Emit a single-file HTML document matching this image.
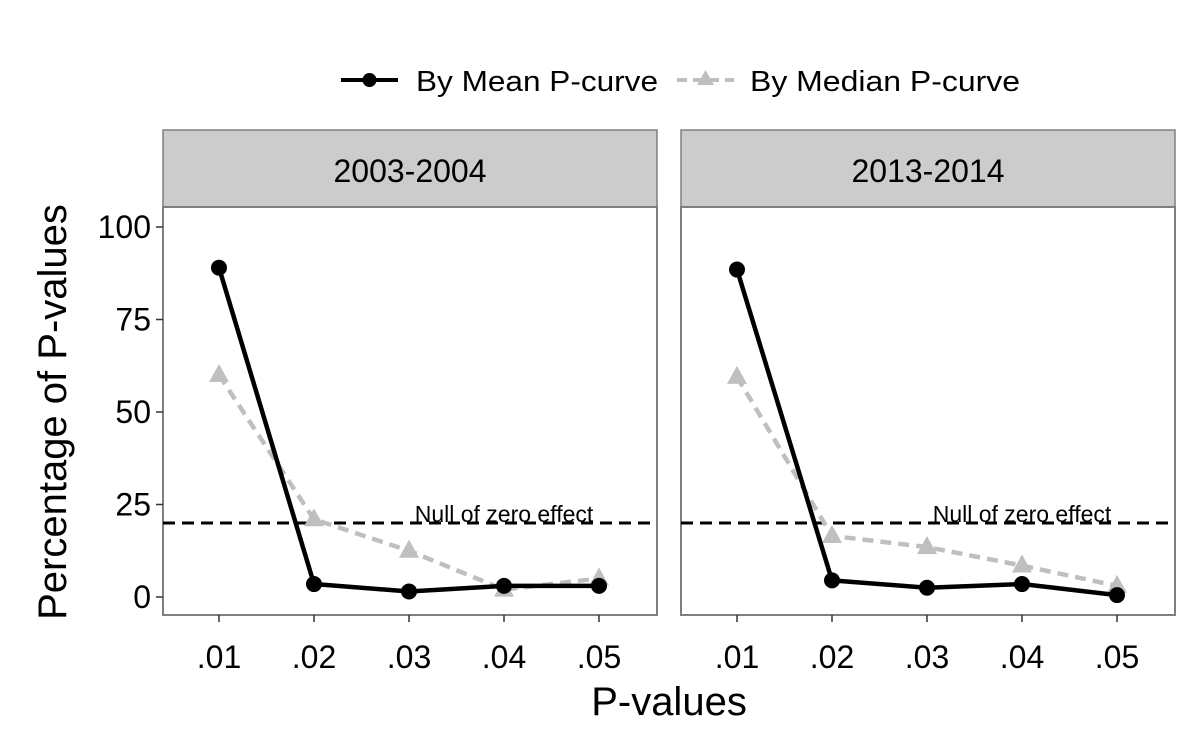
<!DOCTYPE html>
<html><head><meta charset="utf-8"><style>
body{margin:0;background:#fff;}
svg text{font-family:"Liberation Sans",Arial,sans-serif;}
</style></head><body>
<svg id="c" width="1200" height="750" xmlns="http://www.w3.org/2000/svg">
<rect width="1200" height="750" fill="#fff"/>
<g id="legend">
 <g>
  <line x1="341" y1="80" x2="398" y2="80" stroke="#000" stroke-width="4"/>
  <circle cx="369.5" cy="80" r="7" fill="#000"/>
  <text x="416" y="91" font-size="29" textLength="242" lengthAdjust="spacingAndGlyphs">By Mean P-curve</text>
 </g>
 <g>
  <line x1="677" y1="80" x2="734" y2="80" stroke="#bfbfbf" stroke-width="4" stroke-dasharray="10,6"/>
  <polygon points="705.5,70 714,85 697,85" fill="#bfbfbf"/>
  <text x="750" y="91" font-size="29" textLength="270" lengthAdjust="spacingAndGlyphs">By Median P-curve</text>
 </g>
</g>
<text x="66" y="412" font-size="40" text-anchor="middle" transform="rotate(-90 66 412)">Percentage of P-values</text>
<text x="669" y="715" font-size="40" text-anchor="middle">P-values</text>
<g id="panels"></g>
</svg>
<script>
const panelTitles = ["2003-2004", "2013-2014"];
const categories = [".01", ".02", ".03", ".04", ".05"];
const meanValues = [[89, 3.5, 1.5, 3, 3], [88.5, 4.5, 2.5, 3.5, 0.5]];
const medianValues = [[60, 21, 12.5, 2, 5], [59.5, 16.5, 13.5, 8.5, 3]];
const yTicks = [0, 25, 50, 75, 100];
const nullValue = 20;

const NS = "http://www.w3.org/2000/svg";
const g = document.getElementById('panels');
function mk(tag, attrs, parent) { const e = document.createElementNS(NS, tag); for (const k in attrs) e.setAttribute(k, attrs[k]); (parent || g).appendChild(e); return e; }
const panelX = [163, 681], panelW = 494, plotTop = 207, plotBottom = 615;
function yS(v) { return 597 - v * 3.7; }
panelTitles.forEach((title, p) => {
  const x0 = panelX[p];
  function xS(i) { return x0 + 56 + i * 95; }
  const pg = mk('g', {}, g);
  
  
  const strip = mk('rect', { x: x0, y: 130, width: panelW, height: 77, fill: '#cccccc', stroke: '#7f7f7f', 'stroke-width': 1.5 }, pg);
  
  
  const st = mk('text', { x: x0 + panelW / 2, y: 182, 'font-size': 32, 'text-anchor': 'middle' }, pg);
  st.textContent = title;
  
  
  const fr = mk('rect', { x: x0, y: plotTop, width: panelW, height: plotBottom - plotTop, fill: '#fff', stroke: '#7f7f7f', 'stroke-width': 2 }, pg);
  
  
  categories.forEach((c, i) => {
    mk('line', { x1: xS(i), y1: plotBottom, x2: xS(i), y2: plotBottom + 7, stroke: '#333', 'stroke-width': 1.5 }, pg);
    const t = mk('text', { x: xS(i), y: 668, 'font-size': 32, 'text-anchor': 'middle' }, pg);
    t.textContent = c;
    
    
  });
  if (p === 0) yTicks.forEach(v => {
    mk('line', { x1: x0 - 7, y1: yS(v), x2: x0, y2: yS(v), stroke: '#333', 'stroke-width': 1.5 }, pg);
    const t = mk('text', { x: x0 - 12, y: yS(v) + 11, 'font-size': 32, 'text-anchor': 'end' }, pg);
    t.textContent = v;
    
    
  });
  const nl = mk('line', { x1: x0, y1: yS(nullValue), x2: x0 + panelW, y2: yS(nullValue), stroke: '#000', 'stroke-width': 3, 'stroke-dasharray': '12,7' }, pg);
  
  
  const nt = mk('text', { x: x0 + 341, y: yS(nullValue) - 1, 'font-size': 23, 'text-anchor': 'middle' }, pg);
  nt.textContent = 'Null of zero effect';
  
  
  const mp = mk('polyline', { points: medianValues[p].map((v, i) => xS(i) + ',' + yS(v)).join(' '), fill: 'none', stroke: '#bfbfbf', 'stroke-width': 4.5, 'stroke-dasharray': '11,7' }, pg);
  
  
  medianValues[p].forEach((v, i) => {
    const cx = xS(i), cy = yS(v);
    const tri = mk('polygon', { points: `${cx},${cy - 11} ${cx + 10},${cy + 7} ${cx - 10},${cy + 7}`, fill: '#bfbfbf' }, pg);
    
    
  });
  const ml = mk('polyline', { points: meanValues[p].map((v, i) => xS(i) + ',' + yS(v)).join(' '), fill: 'none', stroke: '#000', 'stroke-width': 4.5 }, pg);
  
  
  meanValues[p].forEach((v, i) => {
    const c = mk('circle', { cx: xS(i), cy: yS(v), r: 8, fill: '#000' }, pg);
    
    
  });
});
</script>
</body></html>
